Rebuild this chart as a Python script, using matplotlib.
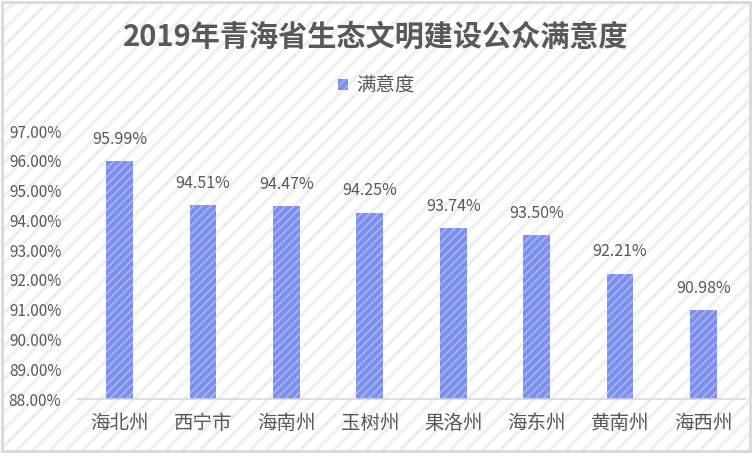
import numpy as np
import matplotlib
matplotlib.use('Agg')
import matplotlib.pyplot as plt
from matplotlib.patches import Rectangle, Patch
from matplotlib.ticker import FixedLocator

plt.rcParams['font.family'] = ['Noto Sans CJK SC', 'DejaVu Sans']

# data
regions = ['海北州', '西宁市', '海南州', '玉树州', '果洛州', '海东州', '黄南州', '海西州']
satisfaction = [95.99, 94.51, 94.47, 94.25, 93.74, 93.50, 92.21, 90.98]
yticks = [88, 89, 90, 91, 92, 93, 94, 95, 96, 97]

txt_c = '#595959'
bar_c = '#7b8fef'
stripe_c = '#a6b3f4'

fig = plt.figure(figsize=(7.52, 4.65), dpi=100)

# hatched chart background with border
with plt.rc_context({'hatch.linewidth': 2.5}):
    bg = Rectangle((0.002, 1 - 451/465), 0.996, 451/465 - 0.004, transform=fig.transFigure,
                   facecolor='white', edgecolor='#f0f0f0', hatch='//', linewidth=0, zorder=-10)
    fig.patches.append(bg)
frame = Rectangle((0.002, 1 - 451/465), 0.996, 451/465 - 0.004, transform=fig.transFigure,
                  facecolor='none', edgecolor='#d9d9d9', linewidth=2, zorder=-9)
fig.patches.append(frame)

ax = fig.add_axes([78/752, 1 - 399/465, (745 - 78)/752, (399 - 131)/465])
ax.patch.set_visible(False)

x = np.arange(len(regions))
w = 0.32
ax.bar(x, np.array(satisfaction) - 88, width=w, bottom=88, color=bar_c, linewidth=0, zorder=2)
with plt.rc_context({'hatch.linewidth': 1.3}):
    ax.bar(x, np.array(satisfaction) - 88, width=w, bottom=88, facecolor='none',
           edgecolor=stripe_c, hatch='////', linewidth=0, zorder=3)

for xi, v in zip(x, satisfaction):
    ax.text(xi, v + 0.45, f'{v:.2f}%', ha='center', va='bottom', fontsize=11.5, color=txt_c)

ax.set_xlim(-0.5, len(regions) - 0.5)
ax.set_ylim(88, 97)
ax.yaxis.set_major_locator(FixedLocator(yticks))
ax.set_yticklabels([f'{t:.2f}%' for t in yticks])
ax.set_xticks(x)
ax.set_xticklabels(regions)
ax.tick_params(axis='both', length=0, labelcolor=txt_c)
ax.tick_params(axis='y', pad=12, labelsize=11)
ax.tick_params(axis='x', pad=10, labelsize=14)
for s in ['top', 'right', 'left']:
    ax.spines[s].set_visible(False)
ax.spines['bottom'].set_color('#d9d9d9')
ax.spines['bottom'].set_linewidth(1.2)

fig.text(0.5, 1 - 37/465, '2019年青海省生态文明建设公众满意度', ha='center', va='center',
         fontsize=21, fontweight='bold', color=txt_c)

with plt.rc_context({'hatch.linewidth': 1.0}):
    handle = Patch(facecolor=bar_c, edgecolor=stripe_c, hatch='////', linewidth=0)
fig.legend(handles=[handle], labels=['满意度'], loc='center', bbox_to_anchor=(0.5, 1 - 86/465),
           frameon=False, fontsize=14, labelcolor=txt_c, handlelength=0.55, handleheight=0.55,
           handletextpad=0.4)

fig.savefig('out.png', dpi=100)
